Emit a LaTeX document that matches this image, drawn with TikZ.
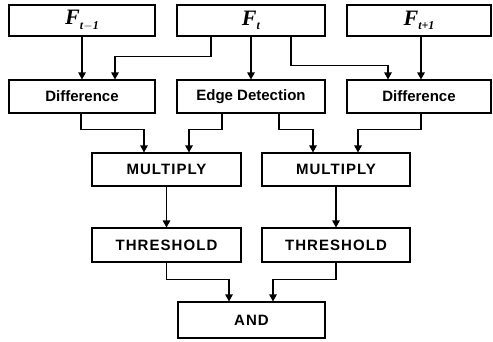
\documentclass[tikz,border=0pt]{standalone}
\usepackage{fontspec}
\setsansfont{Liberation Sans}
\newfontfamily\serifbi{Liberation Serif}
\usetikzlibrary{arrows.meta,calc}
\tikzset{
  box/.style={draw, line width=1.1pt, inner sep=0pt, font=\sffamily\bfseries\fontsize{15}{17}\selectfont},
  capbox/.style={box, font=\sffamily\bfseries\fontsize{15}{17}\selectfont\addfontfeature{LetterSpace=7}},
  fbox/.style={box, font=\serifbi\bfseries\itshape\fontsize{22}{24}\selectfont},
  arr/.style={line width=1.2pt, -{Triangle[length=7pt,width=7.5pt]}},
}
\newcommand{\Fsub}[1]{F\raisebox{-0.45ex}{\fontsize{12}{13}\selectfont #1}}
\begin{document}
\begin{tikzpicture}[x=1pt,y=-1pt]
\useasboundingbox[fill=white] (0,0) rectangle (493,341);
% row 1
\node[fbox, minimum width=146pt, minimum height=31pt] (Fm) at (82,20.5) {\Fsub{t\/$-$1}};
\node[fbox, minimum width=148pt, minimum height=31pt] (F0) at (251,20.5) {\Fsub{t}};
\node[fbox, minimum width=144pt, minimum height=31pt] (Fp) at (419,20.5) {\Fsub{t+1}};
% row 2
\node[box, minimum width=146pt, minimum height=33pt] (D1) at (82,96.5) {Difference};
\node[box, minimum width=148pt, minimum height=33pt] (ED) at (251,96.5) {Edge Detection};
\node[box, minimum width=144pt, minimum height=33pt] (D2) at (419,96.5) {Difference};
% row 3
\node[capbox, minimum width=149pt, minimum height=33pt] (M1) at (166.5,169.5) {MULTIPLY};
\node[capbox, minimum width=148pt, minimum height=33pt] (M2) at (336,169.5) {MULTIPLY};
% row 4
\node[capbox, minimum width=149pt, minimum height=34pt] (T1) at (166.5,245) {THRESHOLD};
\node[capbox, minimum width=148pt, minimum height=34pt] (T2) at (336,245) {THRESHOLD};
% row 5
\node[capbox, minimum width=147pt, minimum height=36pt] (AND) at (251.5,320) {AND};
% connectors row1 -> row2
\draw[arr] (Fm.south) -- (Fm.south |- D1.north);
\draw[arr] ([xshift=-40pt]F0.south) -- ++(0,20) -| ([xshift=33pt]D1.north);
\draw[arr] (F0.south) -- (ED.north);
\draw[arr] ([xshift=40pt]F0.south) -- ++(0,29) -| ([xshift=-31pt]D2.north);
\draw[arr] ([xshift=2pt]Fp.south) -- ([xshift=2pt]D2.north);
% row2 -> row3
\draw[arr] ([xshift=-1pt]D1.south) -- ++(0,16) -| ([xshift=-22.5pt]M1.north);
\draw[arr] ([xshift=-29pt]ED.south) -- ++(0,16) -| ([xshift=22.5pt]M1.north);
\draw[arr] ([xshift=28pt]ED.south) -- ++(0,16) -| ([xshift=-23pt]M2.north);
\draw[arr] ([xshift=2pt]D2.south) -- ++(0,16) -| ([xshift=22pt]M2.north);
% row3 -> row4
\draw[arr] (M1.south) -- (T1.north);
\draw[arr] (M2.south) -- (T2.north);
% row4 -> AND
\draw[arr] (T1.south) -- ++(0,17) -| ([xshift=-22.5pt]AND.north);
\draw[arr] (T2.south) -- ++(0,17) -| ([xshift=21.5pt]AND.north);
\end{tikzpicture}
\end{document}
